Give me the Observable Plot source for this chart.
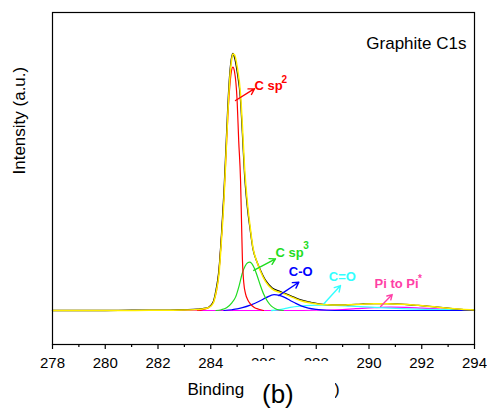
<!DOCTYPE html>
<html><head><meta charset="utf-8">
<script src="https://cdn.jsdelivr.net/npm/d3@7"></script>
<script src="https://cdn.jsdelivr.net/npm/@observablehq/plot@0.6"></script>
<style>
body{margin:0;background:#fff;font-family:"Liberation Sans",Arial,sans-serif;}
#wrap{position:relative;width:487px;height:409px;overflow:hidden;}
#tag{position:absolute;left:244px;top:361px;width:91px;height:48px;background:#fff;font-size:26px;line-height:26px;text-align:left;padding-top:20px;padding-left:18px;box-sizing:border-box;color:#000;}
</style></head><body>
<div id="wrap"><div id="tag">(b)</div></div>
<script>
// ---- data ----
const envE   = [278.0,279.0,280.0,281.0,282.0,283.0,283.5,283.8,283.95,284.1,284.2,284.31,284.41,284.5,284.58,284.65,284.72,284.8,284.84,284.9,285.0,285.13,285.2,285.28,285.38,285.5,285.6,285.75,285.89,286.08,286.33,286.64,286.9,287.15,287.45,287.8,288.1,288.4,288.8,289.2,289.7,290.2,290.7,291.2,291.7,292.2,292.6,293.0,293.5,294.0];
const rawI   = [0.000,0.000,0.000,0.001,0.001,0.003,0.005,0.009,0.015,0.035,0.080,0.156,0.300,0.460,0.640,0.800,0.920,0.990,1.000,0.985,0.930,0.817,0.690,0.533,0.410,0.311,0.240,0.190,0.156,0.117,0.088,0.074,0.063,0.052,0.040,0.032,0.026,0.023,0.022,0.022,0.025,0.027,0.027,0.025,0.021,0.017,0.013,0.009,0.004,0.001];
const fitI   = [0.000,0.000,0.000,0.000,0.001,0.002,0.004,0.008,0.013,0.030,0.070,0.140,0.280,0.430,0.610,0.770,0.900,0.980,0.998,0.995,0.950,0.840,0.720,0.560,0.430,0.320,0.245,0.190,0.152,0.112,0.083,0.070,0.060,0.049,0.037,0.029,0.024,0.022,0.021,0.022,0.024,0.026,0.026,0.024,0.021,0.017,0.013,0.009,0.005,0.002];

const sp2E = [283.5,283.9,284.1,284.31,284.41,284.5,284.58,284.65,284.72,284.8,284.84,284.9,285.0,285.06,285.13,285.17,285.2,285.25,285.32,285.4,285.5,285.65,285.82,286.0];
const sp2I = [0.000,0.010,0.033,0.150,0.290,0.440,0.610,0.760,0.870,0.940,0.947,0.930,0.817,0.660,0.506,0.330,0.200,0.110,0.065,0.042,0.026,0.012,0.005,0.000];

const sp3E = [284.2,284.4,284.6,284.8,284.94,285.08,285.19,285.3,285.4,285.47,285.55,285.65,285.76,285.88,286.0,286.15,286.3,286.45,286.6,286.75];
const sp3I = [0.000,0.003,0.011,0.030,0.052,0.098,0.143,0.172,0.186,0.188,0.183,0.165,0.135,0.098,0.065,0.036,0.017,0.007,0.002,0.000];

const coE = [284.5,284.8,285.0,285.2,285.5,285.82,286.1,286.4,286.6,286.8,287.0,287.2,287.45,287.7,288.0,288.4,289.0,294.0];
const coI = [0.000,0.003,0.006,0.011,0.021,0.035,0.050,0.062,0.059,0.051,0.040,0.029,0.017,0.009,0.004,0.001,0.000,0.000];

const c2oE = [286.3,286.6,286.8,287.02,287.4,287.8,288.2,288.7,289.3,290.06,290.8,291.5,292.3,293.2,294.0];
const c2oI = [0.000,0.003,0.007,0.012,0.017,0.020,0.021,0.020,0.017,0.013,0.009,0.006,0.004,0.003,0.002];

const piE = [278.0,284.0,287.0,288.0,288.8,289.5,290.2,290.8,291.4,292.0,292.6,293.2,294.0];
const piI = [0.000,0.000,0.000,0.001,0.003,0.007,0.011,0.013,0.012,0.009,0.006,0.003,0.001];

const majorTicks = [278,280,282,284,286,288,290,292,294];
const minorTicks = [279,281,283,285,287,289,291,293];

// annotations (data coordinates)
const annText  = ["C sp","C sp","C-O","C=O","Pi to Pi"];
const annSup   = ["2","3","","","*"];
const annX     = [285.66,286.455,286.96,288.476,290.21];
const annY     = [0.859,0.210,0.136,0.114,0.088];
const supX     = [286.68,287.505,0,0,291.86];
const supY     = [0.887,0.240,0,0,0.109];
const arrX1    = [284.94,285.63,286.58,288.29,290.44];
const arrY1    = [0.817,0.156,0.058,0.026,0.016];
const arrX2    = [285.66,286.455,287.34,288.92,290.88];
const arrY2    = [0.863,0.201,0.110,0.097,0.062];

// ---- build ----
const zip = (E, I) => E.map((e, i) => ({e, v: I[i]}));
const annColors = ["#ff0000","#1fdc1f","#0000ff","#33ffff","#ff3fa6"];
const ann = annText.map((t, i) => ({t, s: annSup[i], x: annX[i], y: annY[i], sx: supX[i], sy: supY[i],
  x1: arrX1[i], y1: arrY1[i], x2: arrX2[i], y2: arrY2[i], c: annColors[i]}));
const sups = ann.filter(d => d.s);

const line = (E, I, color, w) => Plot.line(zip(E, I), {x: "e", y: "v", stroke: color, strokeWidth: w, curve: "monotone-x"});

const chart = Plot.plot({
  width: 487, height: 409,
  marginLeft: 52, marginRight: 13, marginTop: 12, marginBottom: 65,
  x: {domain: [278, 294]},
  y: {domain: [-0.1323, 1.1595], axis: null},
  style: {fontFamily: "Liberation Sans, Arial, sans-serif", background: "white", color: "black", overflow: "visible"},
  marks: [
    Plot.axisX({ticks: majorTicks, tickSize: 5, tickPadding: 8, fontSize: 15, label: null, tickFormat: d => String(d), strokeWidth: 1.2}),
    Plot.axisX({ticks: minorTicks, tickSize: 3, text: null, label: null, strokeWidth: 1.2}),
    line(piE, piI, "#ff00ff", 1.2),
    line(c2oE, c2oI, "#33ffff", 1.3),
    line(coE, coI, "#0000ff", 1.2),
    line(sp3E, sp3I, "#1fdc1f", 1.2),
    line(sp2E, sp2I, "#ff0000", 1.2),
    line(envE, rawI, "#000000", 1.3),
    line(envE, fitI, "#ffee00", 1.5),
    Plot.arrow(ann, {x1: "x1", y1: "y1", x2: "x2", y2: "y2", stroke: "c", strokeWidth: 1.4, headLength: 7}),
    Plot.text(ann, {x: "x", y: "y", text: "t", fill: "c", fontSize: 13, fontWeight: "bold", textAnchor: "start", lineAnchor: "bottom"}),
    Plot.text(sups, {x: "sx", y: "sy", text: "s", fill: "c", fontSize: 10, fontWeight: "bold", textAnchor: "start", lineAnchor: "bottom"}),
    Plot.text(["Graphite C1s"], {frameAnchor: "top-right", textAnchor: "end", lineAnchor: "bottom", dx: -8, dy: 36, fontSize: 17}),
    Plot.text(["Intensity (a.u.)"], {frameAnchor: "left", rotate: -90, dx: -33, dy: -4, fontSize: 17}),
    Plot.text(["Binding Energy (eV)"], {frameAnchor: "bottom", lineAnchor: "bottom", dy: 50, fontSize: 17}),
    Plot.frame({stroke: "black", strokeWidth: 1.2})
  ]
});
document.getElementById("wrap").insertBefore(chart, document.getElementById("tag"));
</script></body></html>
